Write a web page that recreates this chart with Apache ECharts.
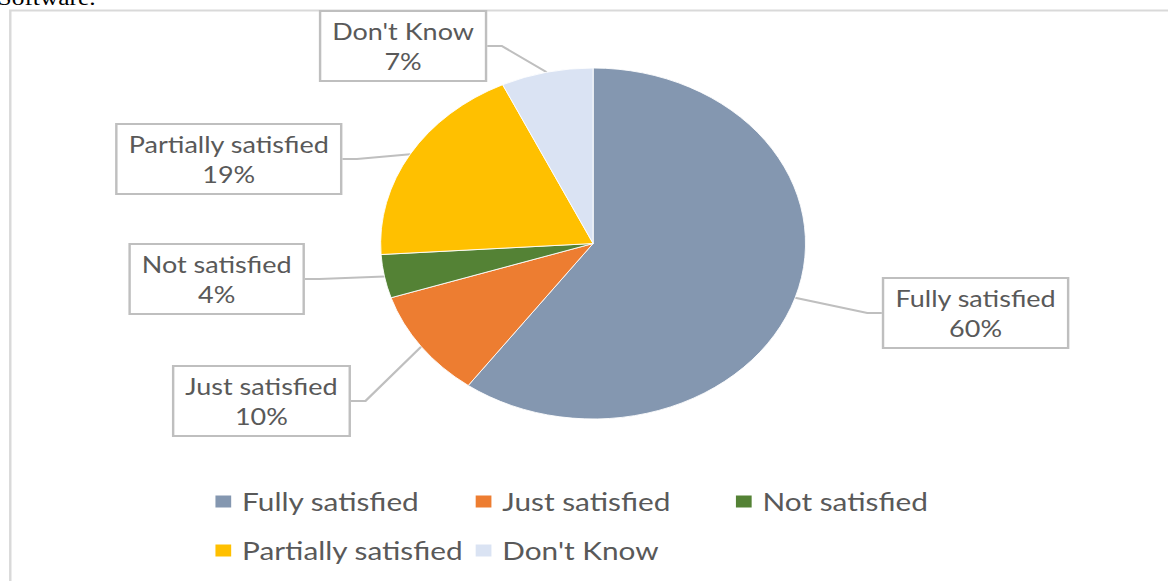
<!DOCTYPE html>
<html>
<head>
<meta charset="utf-8">
<script src="https://cdn.jsdelivr.net/npm/echarts@6/dist/echarts.min.js"></script>
<style>
  html, body { margin: 0; padding: 0; background: #ffffff; overflow: hidden; }
  #wrap { width: 1168px; height: 581px; overflow: hidden; position: relative; }
  #chart { width: 965px; height: 581px; transform: scaleX(1.2104); transform-origin: 0 0; }
</style>
</head>
<body>
<div id="wrap"><div id="chart"></div></div>
<script>
// ---- data ----
const categories = ['Fully satisfied', 'Just satisfied', 'Not satisfied', 'Partially satisfied', "Don't Know"];
const percentages = [60, 10, 4, 19, 7];

// ---- styles / layout (unstretched pixel space) ----
const sliceColors = ['#8497b0', '#ed7d31', '#548235', '#ffc000', '#dae3f3'];
const labelCenters = [[806, 313], [216, 401], [179, 279], [189, 159], [333, 46]];
const legendSlots = [[176, 489], [391, 489], [606, 489], [176, 538], [391, 538]];
const FONT = 'Lato, "Liberation Sans", sans-serif';
const TEXT_GRAY = '#595959';

const chart = echarts.init(document.getElementById('chart'), null, { renderer: 'svg' });

const legends = categories.map((name, i) => ({
  data: [name],
  left: legendSlots[i][0],
  top: legendSlots[i][1],
  padding: 0,
  icon: 'rect',
  itemWidth: 15,
  itemHeight: 14,
  selectedMode: false,
  textStyle: { fontFamily: FONT, fontSize: 24.6, color: TEXT_GRAY, padding: [0, 0, 0, 3], lineHeight: 14 }
}));

chart.setOption({
  animation: false,
  backgroundColor: '#ffffff',
  color: sliceColors,
  graphic: [
    { type: 'rect', left: 6, top: 8, shape: { width: 1200, height: 700 }, style: { fill: 'none', stroke: '#d9d9d9', lineWidth: 2 }, silent: true },
    { type: 'text', left: -2, top: -13, style: { text: 'Software.', font: '21px "Liberation Serif", serif', fill: '#000' }, silent: true }
  ],
  legend: legends,
  series: [{
    type: 'pie',
    center: [490, 243.5],
    radius: 175.5,
    startAngle: 90,
    clockwise: true,
    avoidLabelOverlap: false,
    emphasis: { disabled: true },
    itemStyle: { borderColor: '#ffffff', borderWidth: 0.8 },
    data: categories.map((n, i) => ({ name: n, value: percentages[i] })),
    label: {
      show: true,
      position: 'outside',
      formatter: p => p.name + '\n' + p.value + '%',
      fontFamily: FONT,
      fontSize: 22.3,
      lineHeight: 30,
      color: TEXT_GRAY,
      align: 'center',
      backgroundColor: '#ffffff',
      borderColor: '#bfbfbf',
      borderWidth: 2,
      padding: [4, 9]
    },
    labelLine: {
      show: true,
      length: 10,
      length2: 12,
      lineStyle: { color: '#bfbfbf', width: 2 }
    },
    labelLayout: function (params) {
      const c = labelCenters[params.dataIndex];
      return { x: c[0], y: c[1], align: 'center', verticalAlign: 'middle' };
    }
  }]
});
</script>
</body>
</html>
